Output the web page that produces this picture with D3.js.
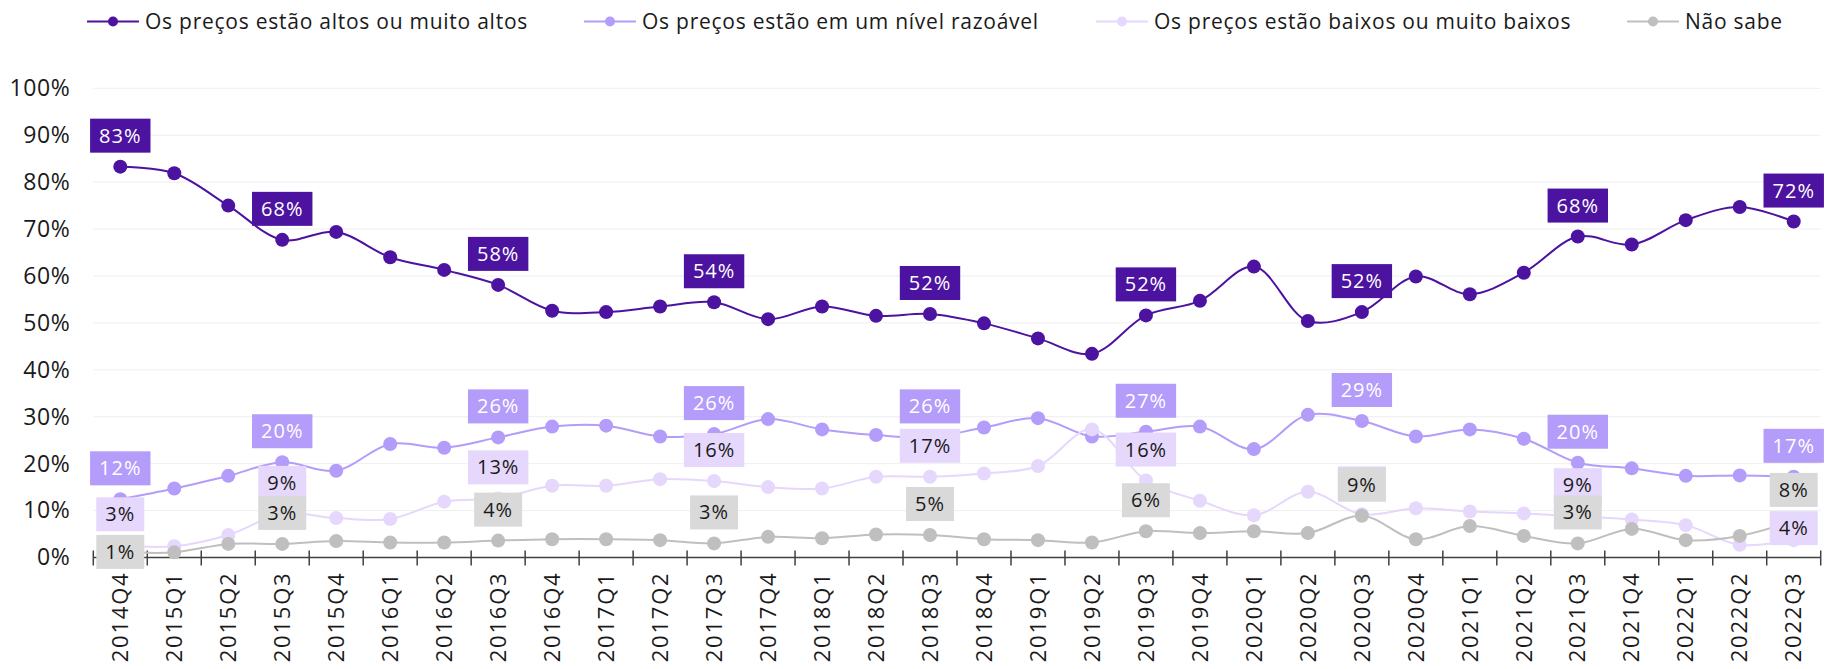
<!DOCTYPE html>
<html>
<head>
<meta charset="utf-8">
<script src="https://cdn.jsdelivr.net/npm/d3@7"></script>
<style>
  body { margin: 0; background: #fff; }
  svg text { font-family: "Open Sans", sans-serif; }
</style>
</head>
<body>
<svg id="chart" width="1831" height="669"></svg>
<script>
var quarters = ['2014Q4',
  '2015Q1', '2015Q2', '2015Q3', '2015Q4',
  '2016Q1', '2016Q2', '2016Q3', '2016Q4',
  '2017Q1', '2017Q2', '2017Q3', '2017Q4',
  '2018Q1', '2018Q2', '2018Q3', '2018Q4',
  '2019Q1', '2019Q2', '2019Q3', '2019Q4',
  '2020Q1', '2020Q2', '2020Q3', '2020Q4',
  '2021Q1', '2021Q2', '2021Q3', '2021Q4',
  '2022Q1', '2022Q2', '2022Q3'];

// % of respondents
var altos = [83.3, 81.9, 75.0, 67.7, 69.4, 64.0, 61.3, 58.1, 52.6, 52.3, 53.5, 54.4, 50.8, 53.5, 51.5, 51.9,
             49.9, 46.7, 43.4, 51.6, 54.7, 62.0, 50.4, 52.3, 59.9, 56.1, 60.7, 68.4, 66.7, 71.9, 74.7, 71.6];
var razoavel = [12.4, 14.7, 17.4, 20.3, 18.5, 24.2, 23.4, 25.6, 27.9, 28.1, 25.8, 26.3, 29.5, 27.3, 26.1, 25.6,
                27.7, 29.7, 25.8, 26.8, 27.9, 23.1, 30.4, 29.1, 25.8, 27.3, 25.3, 20.2, 19.0, 17.4, 17.5, 17.2];
var baixos = [2.6, 2.4, 4.8, 9.3, 8.4, 8.2, 11.9, 12.6, 15.3, 15.3, 16.7, 16.3, 15.0, 14.7, 17.2, 17.2,
              17.9, 19.5, 27.3, 16.4, 12.1, 9.0, 14.0, 9.2, 10.5, 9.8, 9.4, 8.8, 8.1, 6.9, 2.7, 3.7];
var naoSabe = [1.2, 1.1, 2.9, 2.9, 3.5, 3.2, 3.2, 3.6, 3.9, 3.9, 3.7, 3.0, 4.4, 4.1, 4.9, 4.8,
               3.9, 3.7, 3.2, 5.6, 5.2, 5.6, 5.2, 8.9, 3.9, 6.7, 4.6, 3.0, 6.1, 3.7, 4.6, 7.8];

var seriesNames = ['Os preços estão altos ou muito altos', 'Os preços estão em um nível razoável',
                   'Os preços estão baixos ou muito baixos', 'Não sabe'];
var yTicks = [0, 10, 20, 30, 40, 50, 60, 70, 80, 90, 100];
var labelIdx = [0, 3, 7, 11, 15, 19, 23, 27, 31]; // quarters that get a value box

var series = [
  {name: seriesNames[0], values: altos,    line: '#4C12A0', box: '#4C12A0', txt: '#fff'},
  {name: seriesNames[1], values: razoavel, line: '#B39CFA', box: '#B39CFA', txt: '#fff'},
  {name: seriesNames[2], values: baixos,   line: '#E6D7FC', box: '#E6D7FC', txt: '#1a1a1a'},
  {name: seriesNames[3], values: naoSabe,  line: '#BFBFBF', box: '#D9D9D9', txt: '#1a1a1a'}
];

// boxes that were pushed down in the original to dodge a neighbour
var labelShift = {'3-0': 31, '2-31': 19};

var margin = {top: 88.3, left: 93.3, right: 10.3, bottom: 111.5};
var canvas = {w: 1831 - margin.left - margin.right, h: 669 - margin.top - margin.bottom};

var svg = d3.select('#chart');
var g = svg.append('g').attr('transform', `translate(${margin.left}, ${margin.top})`);

var x = d3.scaleBand().domain(quarters).range([0, canvas.w]);
var y = d3.scaleLinear().domain([0, 100]).range([canvas.h, 0]);
var cx = d => x(d) + x.bandwidth() / 2;

// grid
g.append('g').selectAll('line')
  .data(yTicks.filter(d => d > 0))
  .enter().append('line')
  .attr('x1', 0).attr('x2', canvas.w)
  .attr('y1', d => y(d)).attr('y2', d => y(d))
  .style('stroke', '#efefef').style('stroke-width', 1);

// y labels
var yAxis = d3.axisLeft(y).tickValues(yTicks).tickFormat(d => d + '%').tickSize(0).tickPadding(23);
g.append('g').call(yAxis)
  .call(a => a.select('.domain').remove())
  .selectAll('text')
  .style('font-size', '23px').style('letter-spacing', '0.6px').style('fill', '#1a1a1a')
  .style('font-family', '"Open Sans", sans-serif');

// x axis: line + ticks on band edges
g.append('line')
  .attr('x1', 0).attr('x2', canvas.w)
  .attr('y1', canvas.h).attr('y2', canvas.h)
  .style('stroke', '#404040').style('stroke-width', 1.5);

var edges = quarters.map(q => x(q)).concat([canvas.w]);
g.append('g').selectAll('line')
  .data(edges)
  .enter().append('line')
  .attr('x1', d => d).attr('x2', d => d)
  .attr('y1', canvas.h - 7).attr('y2', canvas.h + 8)
  .style('stroke', '#404040').style('stroke-width', 1.5);

g.append('g').selectAll('text')
  .data(quarters)
  .enter().append('text')
  .attr('transform', d => `translate(${cx(d)}, ${canvas.h + 14}) rotate(-90)`)
  .attr('text-anchor', 'end')
  .attr('dy', '0.35em')
  .style('font-size', '22px')
  .style('letter-spacing', '1.8px')
  .style('fill', '#1a1a1a')
  .text(d => d);

// lines and markers
var lineGen = d3.line()
  .x((d, i) => cx(quarters[i]))
  .y(d => y(d))
  .curve(d3.curveCatmullRom.alpha(0.5));

series.forEach(function (s) {
  g.append('path')
    .attr('d', lineGen(s.values))
    .style('fill', 'none')
    .style('stroke', s.line)
    .style('stroke-width', 2);

  g.append('g').selectAll('circle')
    .data(s.values)
    .enter().append('circle')
    .attr('r', 7)
    .attr('cx', (d, i) => cx(quarters[i]))
    .attr('cy', d => y(d))
    .style('fill', s.line);
});

// value boxes
series.forEach(function (s, si) {
  labelIdx.forEach(function (i) {
    var v = s.values[i];
    var ly = y(v) - 31 + (labelShift[si + '-' + i] || 0);
    var lab = g.append('g').attr('transform', `translate(${cx(quarters[i])}, ${ly})`);
    var rect = lab.append('rect');
    var t = lab.append('text')
      .attr('text-anchor', 'middle')
      .attr('dy', '0.35em')
      .style('font-size', '20px')
      .style('letter-spacing', '1px')
      .style('fill', s.txt)
      .text(Math.round(v) + '%');
    var tw = t.node().getComputedTextLength();
    rect.attr('x', -tw / 2 - 9).attr('y', -17)
      .attr('width', tw + 18).attr('height', 34)
      .style('fill', s.box);
  });
});

// legend
var legendX = [87, 584, 1096, 1627];
series.forEach(function (s, si) {
  var lg = svg.append('g').attr('transform', `translate(${legendX[si]}, 21.5)`);
  lg.append('line').attr('x1', 0).attr('x2', 52).attr('y1', 0).attr('y2', 0)
    .style('stroke', s.line).style('stroke-width', 2);
  lg.append('circle').attr('cx', 26).attr('r', 5).style('fill', s.line);
  lg.append('text').attr('x', 58).attr('dy', '0.35em')
    .style('font-size', '21px').style('letter-spacing', '0.75px').style('fill', '#1a1a1a')
    .text(s.name);
});
</script>
</body>
</html>
